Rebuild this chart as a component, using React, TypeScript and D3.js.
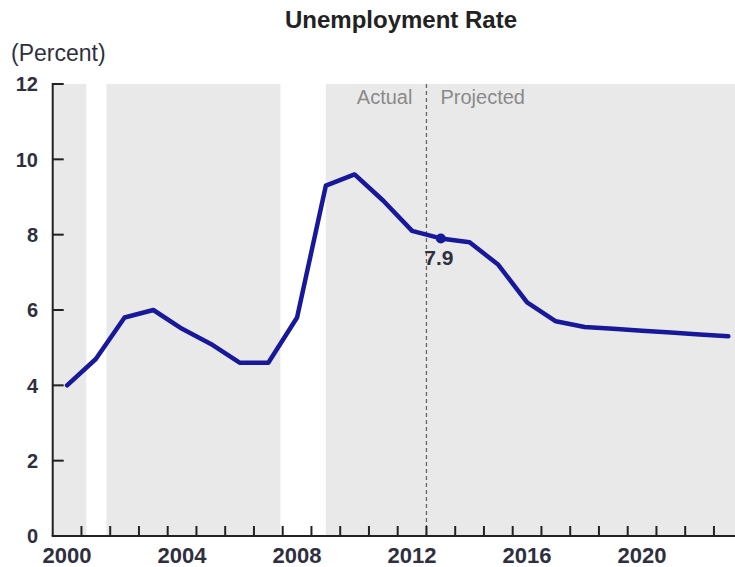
import React from "react";
import * as d3 from "d3";

const years: number[] = [2000, 2001, 2002, 2003, 2004, 2005, 2006, 2007, 2008, 2009, 2010, 2011, 2012, 2013, 2014, 2015, 2016, 2017, 2018, 2019, 2020, 2021, 2022, 2023];
const rates: number[] = [4.0, 4.7, 5.8, 6.0, 5.5, 5.1, 4.6, 4.6, 5.8, 9.3, 9.6, 8.9, 8.1, 7.9, 7.8, 7.2, 6.2, 5.7, 5.55, 5.5, 5.45, 5.4, 5.35, 5.3];
const recessions: [number, number][] = [[2001.17, 2001.87], [2007.92, 2009.5]];
const yTicks: number[] = [0, 2, 4, 6, 8, 10, 12];
const xLabels: number[] = [2000, 2004, 2008, 2012, 2016, 2020];
const splitYear = 2013;
const highlightYear = 2013;
const highlightLabel = "7.9";

const W = 735;
const H = 567;
const FONT = "'Liberation Sans', Arial, sans-serif";

export default function App() {
  const x = d3.scaleLinear().domain([2000, 2024]).range([52.7, 742.7]);
  const y = d3.scaleLinear().domain([0, 12]).range([536, 84]);
  const line = d3
    .line<number>()
    .x((_, i) => x(years[i] + 0.5))
    .y((d) => y(d));
  const boundaries = d3.range(2001, 2025);
  const hi = years.indexOf(highlightYear);
  const textCol = "#2f2f3f";
  const lineCol = "#18189a";

  return (
    <svg
      width={W}
      height={H}
      style={{ position: "absolute", left: 0, top: 0, display: "block" }}
    >
      <rect x={0} y={0} width={W} height={H} fill="#fff" />
      <rect x={x(2000)} y={y(12)} width={x(2024) - x(2000)} height={y(0) - y(12)} fill="#e9e9e9" />
      {recessions.map(([a, b], i) => (
        <rect key={i} x={x(a)} y={y(12)} width={x(b) - x(a)} height={y(0) - y(12)} fill="#ffffff" />
      ))}
      <line x1={x(splitYear)} x2={x(splitYear)} y1={y(12)} y2={y(0)} stroke="#666" strokeWidth={1.3} strokeDasharray="4,3" />
      <line x1={x(2000)} x2={x(2000)} y1={y(12) - 1} y2={y(0)} stroke="#222" strokeWidth={2} />
      <line x1={x(2000) - 1} x2={W} y1={y(0)} y2={y(0)} stroke="#222" strokeWidth={2} />
      {yTicks.map((t) => (
        <g key={t}>
          <line x1={x(2000)} x2={x(2000) + 11} y1={y(t)} y2={y(t)} stroke="#222" strokeWidth={2} />
          <text x={38} y={y(t)} dy="0.36em" textAnchor="end" fontFamily={FONT} fontWeight="bold" fontSize={20} fill={textCol}>
            {t}
          </text>
        </g>
      ))}
      {boundaries.map((b) => (
        <line key={b} x1={x(b)} x2={x(b)} y1={y(0)} y2={y(0) - 10} stroke="#222" strokeWidth={2} />
      ))}
      {xLabels.map((l) => (
        <text key={l} x={x(l + 0.5)} y={563} textAnchor="middle" fontFamily={FONT} fontWeight="bold" fontSize={22} fill={textCol}>
          {l}
        </text>
      ))}
      <path d={line(rates) || ""} fill="none" stroke={lineCol} strokeWidth={4.5} strokeLinejoin="round" strokeLinecap="round" />
      <circle cx={x(years[hi] + 0.5)} cy={y(rates[hi])} r={5} fill={lineCol} />
      <text x={x(years[hi] + 0.5) - 2} y={y(rates[hi]) + 27} textAnchor="middle" fontFamily={FONT} fontWeight="bold" fontSize={21} fill={textCol}>
        {highlightLabel}
      </text>
      <text x={x(splitYear) - 14} y={104} textAnchor="end" fontFamily={FONT} fontSize={20} fill="#8a8a8a">
        Actual
      </text>
      <text x={x(splitYear) + 14} y={104} textAnchor="start" fontFamily={FONT} fontSize={20} fill="#8a8a8a">
        Projected
      </text>
      <text x={401} y={28} textAnchor="middle" fontFamily={FONT} fontWeight="bold" fontSize={24} fill="#222">
        Unemployment Rate
      </text>
      <text x={11} y={61} fontFamily={FONT} fontSize={23} fill={textCol}>
        (Percent)
      </text>
    </svg>
  );
}
